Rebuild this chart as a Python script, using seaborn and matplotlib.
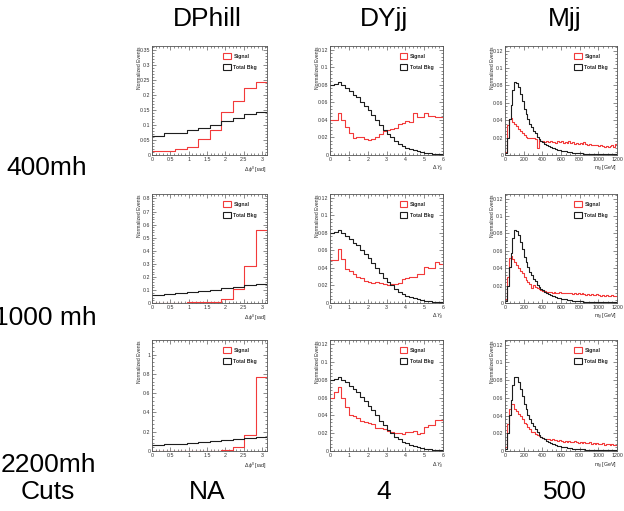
import numpy as np
import matplotlib
matplotlib.use('Agg')
import matplotlib.pyplot as plt
from matplotlib.patches import Patch
from matplotlib.ticker import MultipleLocator, AutoMinorLocator, FuncFormatter
import seaborn as sns

sns.set_style('ticks')
plt.rcParams['font.family'] = ['Liberation Sans', 'DejaVu Sans']
plt.rcParams['mathtext.fontset'] = 'custom'
plt.rcParams['mathtext.rm'] = 'Liberation Sans'
plt.rcParams['mathtext.it'] = 'Liberation Sans:italic'

# ---- data (normalized histograms) ----
masses = ['400mh', '1000 mh', '2200mh']
variables = ['DPhill', 'DYjj', 'Mjj']
cuts = ['NA', '4', '500']

# DPhill: 10 bins, 0 .. pi
dphi_bkg = [0.063, 0.072, 0.073, 0.083, 0.091, 0.100, 0.113, 0.124, 0.137, 0.144]
dphi_sig_400 = [0.013, 0.013, 0.019, 0.028, 0.053, 0.083, 0.144, 0.181, 0.222, 0.242]
dphi_sig_1000 = [0.001, 0.002, 0.003, 0.004, 0.006, 0.010, 0.030, 0.105, 0.283, 0.556]
dphi_sig_2200 = [0.000, 0.001, 0.001, 0.002, 0.002, 0.005, 0.012, 0.040, 0.170, 0.767]

# DYjj: 30 bins, 0 .. 6
dyjj_bkg = [0.080, 0.081, 0.083, 0.080, 0.077, 0.073, 0.069, 0.066, 0.061, 0.056,
            0.051, 0.046, 0.040, 0.034, 0.029, 0.024, 0.020, 0.016, 0.013, 0.010,
            0.0085, 0.0070, 0.0058, 0.0045, 0.0036, 0.0028, 0.0021, 0.0016, 0.0011, 0.0007]
dyjj_sig_400 = [0.040, 0.040, 0.048, 0.040, 0.032, 0.025, 0.019, 0.021, 0.020, 0.018,
                0.017, 0.018, 0.021, 0.024, 0.027, 0.028, 0.030, 0.031, 0.035, 0.037,
                0.039, 0.038, 0.048, 0.043, 0.043, 0.048, 0.044, 0.044, 0.043, 0.043]
dyjj_sig_1000 = [0.049, 0.049, 0.062, 0.050, 0.039, 0.036, 0.033, 0.030, 0.028, 0.025,
                 0.024, 0.023, 0.024, 0.023, 0.022, 0.020, 0.022, 0.022, 0.023, 0.027,
                 0.028, 0.030, 0.030, 0.033, 0.033, 0.041, 0.040, 0.040, 0.047, 0.045]
dyjj_sig_2200 = [0.060, 0.066, 0.072, 0.060, 0.049, 0.040, 0.039, 0.037, 0.034, 0.032,
                 0.031, 0.030, 0.026, 0.026, 0.025, 0.022, 0.021, 0.020, 0.020, 0.019,
                 0.021, 0.021, 0.022, 0.019, 0.020, 0.027, 0.029, 0.029, 0.035, 0.035]

# Mjj: 60 bins, 0 .. 1200 GeV
mjj_bkg = [0.002, 0.020, 0.041, 0.058, 0.075, 0.0835, 0.083, 0.078, 0.070, 0.062,
           0.053, 0.047, 0.041, 0.036, 0.032, 0.028, 0.025, 0.021, 0.018, 0.016,
           0.0145, 0.013, 0.0115, 0.0102, 0.0092, 0.0083, 0.0075, 0.0068, 0.0061, 0.0055,
           0.0050, 0.0045, 0.0041, 0.0037, 0.0034, 0.0031, 0.0028, 0.0026, 0.0024, 0.0022,
           0.0020, 0.0018, 0.0017, 0.0016, 0.0015, 0.0014, 0.0013, 0.0012, 0.0011, 0.0010,
           0.0010, 0.0009, 0.0009, 0.0008, 0.0008, 0.0007, 0.0007, 0.0007, 0.0006, 0.0006]
mjj_sig_400 = [0.003, 0.035, 0.041, 0.042, 0.038, 0.036, 0.033, 0.030, 0.028, 0.025,
               0.023, 0.021, 0.020, 0.020, 0.019, 0.020, 0.018, 0.008, 0.017, 0.016,
               0.016, 0.015, 0.016, 0.015, 0.016, 0.015, 0.015, 0.014, 0.016, 0.015,
               0.016, 0.014, 0.015, 0.014, 0.016, 0.014, 0.015, 0.013, 0.014, 0.013,
               0.014, 0.013, 0.015, 0.013, 0.012, 0.013, 0.012, 0.011, 0.012, 0.011,
               0.010, 0.011, 0.010, 0.009, 0.010, 0.009, 0.010, 0.012, 0.009, 0.013]
mjj_sig_1000 = [0.005, 0.030, 0.052, 0.054, 0.050, 0.047, 0.044, 0.040, 0.037, 0.034,
                0.030, 0.027, 0.024, 0.022, 0.017, 0.021, 0.018, 0.017, 0.016, 0.015,
                0.014, 0.014, 0.013, 0.013, 0.013, 0.012, 0.013, 0.012, 0.012, 0.013,
                0.012, 0.011, 0.012, 0.011, 0.012, 0.011, 0.010, 0.011, 0.010, 0.011,
                0.010, 0.011, 0.010, 0.009, 0.010, 0.009, 0.010, 0.009, 0.009, 0.010,
                0.009, 0.008, 0.009, 0.008, 0.009, 0.008, 0.008, 0.009, 0.008, 0.008]
mjj_sig_2200 = [0.005, 0.031, 0.047, 0.053, 0.053, 0.047, 0.045, 0.042, 0.039, 0.036,
                0.032, 0.030, 0.027, 0.025, 0.021, 0.022, 0.019, 0.018, 0.017, 0.016,
                0.015, 0.014, 0.013, 0.014, 0.012, 0.013, 0.012, 0.012, 0.011, 0.012,
                0.011, 0.010, 0.011, 0.010, 0.011, 0.010, 0.010, 0.011, 0.010, 0.009,
                0.010, 0.009, 0.010, 0.009, 0.009, 0.010, 0.008, 0.009, 0.008, 0.009,
                0.008, 0.008, 0.009, 0.007, 0.008, 0.008, 0.007, 0.008, 0.007, 0.007]

panels = {
    'DPhill': dict(edges=np.linspace(0, np.pi, 11), bkg=dphi_bkg,
                   sig=[dphi_sig_400, dphi_sig_1000, dphi_sig_2200],
                   xlabel=r'$\Delta\,\phi^{ll}$ [rad]', xmaj=0.5, xmin=5,
                   ymaj=[0.05, 0.1, 0.2]),
    'DYjj': dict(edges=np.linspace(0, 6, 31), bkg=dyjj_bkg,
                 sig=[dyjj_sig_400, dyjj_sig_1000, dyjj_sig_2200],
                 xlabel=r'$\Delta\,Y_{jj}$', xmaj=1, xmin=5,
                 ymaj=[0.02, 0.02, 0.02]),
    'Mjj': dict(edges=np.linspace(0, 1200, 61), bkg=mjj_bkg,
                sig=[mjj_sig_400, mjj_sig_1000, mjj_sig_2200],
                xlabel=r'm$_{jj}$ [GeV]', xmaj=200, xmin=4,
                ymaj=[0.02, 0.02, 0.02]),
}

# ---- layout ----
W, H = 624, 511
fig = plt.figure(figsize=(W / 100, H / 100), dpi=100)

col_x = [(152, 267), (330, 443), (505, 617)]
row_y = [(46, 155), (194, 303), (340, 451)]

sig_color = '#f23a3a'
bkg_color = '#1e1e1e'
fmt = FuncFormatter(lambda v, p: '%g' % round(v, 6))

for c, var in enumerate(variables):
    p = panels[var]
    edges = [float(e) for e in p['edges']]
    centers = [0.5 * (a + b) for a, b in zip(edges[:-1], edges[1:])]
    for r in range(3):
        x0, x1 = col_x[c]
        y0, y1 = row_y[r]
        ax = fig.add_axes([x0 / W, 1 - y1 / H, (x1 - x0) / W, (y1 - y0) / H])
        sig = p['sig'][r]
        sns.histplot(x=centers, weights=sig, bins=edges, element='step', fill=False,
                     color=sig_color, linewidth=0.8, ax=ax)
        sns.histplot(x=centers, weights=p['bkg'], bins=edges, element='step', fill=False,
                     color=bkg_color, linewidth=0.8, ax=ax)
        ax.set_xlim(edges[0], edges[-1])
        ax.set_ylim(0, 1.5 * max(max(sig), max(p['bkg'])))

        ax.xaxis.set_major_locator(MultipleLocator(p['xmaj']))
        ax.xaxis.set_minor_locator(AutoMinorLocator(p['xmin']))
        ax.yaxis.set_major_locator(MultipleLocator(p['ymaj'][r]))
        ax.yaxis.set_minor_locator(AutoMinorLocator(5))
        ax.xaxis.set_major_formatter(fmt)
        ax.yaxis.set_major_formatter(fmt)
        ax.tick_params(which='both', direction='in', top=True, right=True,
                       labelsize=3.8, pad=1.2, width=0.4, colors='#333333')
        ax.tick_params(which='major', length=2.6)
        ax.tick_params(which='minor', length=1.3)
        for s in ax.spines.values():
            s.set_linewidth(0.6)
            s.set_color('#555555')

        ax.set_ylabel('Normalized Events', fontsize=3.6, loc='top')
        ax.yaxis.set_label_coords(-0.085, 1.0)
        ax.set_xlabel(p['xlabel'], fontsize=3.8, loc='right')
        ax.xaxis.set_label_coords(1.0, -0.085)

        handles = [Patch(facecolor='white', edgecolor=sig_color, linewidth=0.8, label='Signal'),
                   Patch(facecolor='white', edgecolor=bkg_color, linewidth=0.8, label='Total Bkg')]
        ax.legend(handles=handles, loc='upper left', bbox_to_anchor=(0.62, 0.935),
                  frameon=False, prop={'size': 3.8, 'weight': 'bold'},
                  handlelength=1.4, handleheight=1.4, handletextpad=0.5,
                  labelspacing=0.9, borderaxespad=0, borderpad=0)

# ---- slide text ----
big = 19
title_x = [207, 384, 565]
for c, var in enumerate(variables):
    fig.text(title_x[c] / W, 1 - 19 / H, var, ha='center', va='center',
             fontsize=big, color='black')
    fig.text(title_x[c] / W, 1 - 492 / H, cuts[c], ha='center', va='center',
             fontsize=big, color='black')

row_label_y = [168, 318, 465]
row_label_x = [47, 45, 48]
for r, m in enumerate(masses):
    fig.text(row_label_x[r] / W, 1 - row_label_y[r] / H, m, ha='center', va='center',
             fontsize=big, color='black')
fig.text(48 / W, 1 - 492 / H, 'Cuts', ha='center', va='center', fontsize=big, color='black')

fig.savefig('out.png', dpi=100)
